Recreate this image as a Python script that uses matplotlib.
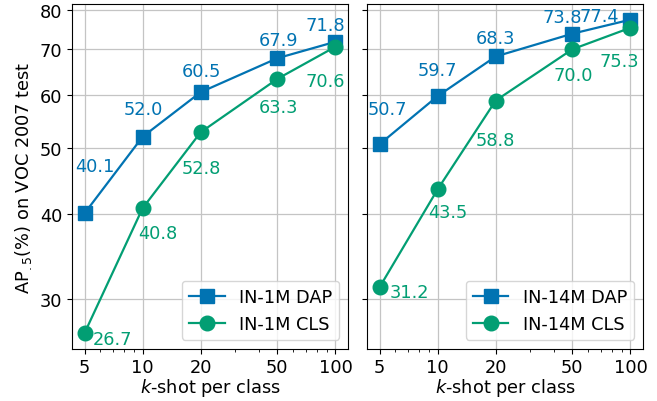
import matplotlib
matplotlib.use('Agg')
import matplotlib.pyplot as plt
from matplotlib.ticker import NullFormatter, NullLocator, FixedFormatter

# data
shots = [5, 10, 20, 50, 100]
in1m_dap = [40.1, 52.0, 60.5, 67.9, 71.8]
in1m_cls = [26.7, 40.8, 52.8, 63.3, 70.6]
in14m_dap = [50.7, 59.7, 68.3, 73.8, 77.4]
in14m_cls = [31.2, 43.5, 58.8, 70.0, 75.3]
y_ticks = [30, 40, 50, 60, 70, 80]

# label offsets in pixels (dx, dy)
off_1m_dap = [(10, 47), (1, 28), (1, 21), (1, 18), (-10, 17)]
off_1m_cls = [(28, -6), (15, -25), (1, -36), (1, -28), (-10, -34)]
off_14m_dap = [(8, 35), (0, 26), (0, 18), (-10, 17), (-31, 4)]
off_14m_cls = [(30, -5), (10, -23), (0, -39), (1, -26), (-11, -33)]

BLUE = '#0173B2'
GREEN = '#029E73'
FS = 12.8

plt.rcParams['font.size'] = FS

fig, axes = plt.subplots(1, 2, figsize=(6.57, 4.02), dpi=100, sharey=True)
fig.subplots_adjust(left=0.1096, right=0.9787, top=0.9876, bottom=0.13, wspace=0.069)

panels = [
    (axes[0], in1m_dap, in1m_cls, 'IN-1M DAP', 'IN-1M CLS', off_1m_dap, off_1m_cls),
    (axes[1], in14m_dap, in14m_cls, 'IN-14M DAP', 'IN-14M CLS', off_14m_dap, off_14m_cls),
]

for ax, dap, cls, ldap, lcls, odap, ocls in panels:
    ax.plot(shots, dap, '-s', color=BLUE, lw=1.6, markersize=10.5, label=ldap)
    ax.plot(shots, cls, '-o', color=GREEN, lw=1.6, markersize=10.5, label=lcls)
    ax.set_xscale('log')
    ax.set_yscale('log')
    for x, y, (dx, dy) in zip(shots, dap, odap):
        ax.annotate(f'{y:.1f}', (x, y), xytext=(dx, dy), textcoords='offset pixels',
                    ha='center', va='center', color=BLUE, fontsize=FS)
    for x, y, (dx, dy) in zip(shots, cls, ocls):
        ax.annotate(f'{y:.1f}', (x, y), xytext=(dx, dy), textcoords='offset pixels',
                    ha='center', va='center', color=GREEN, fontsize=FS)
    ax.set_xticks(shots)
    ax.set_xticklabels([str(s) for s in shots])
    ax.xaxis.set_minor_formatter(NullFormatter())
    ax.grid(True, which='major', color='#c4c4c4', lw=0.9)
    ax.set_xlabel('$k$-shot per class', labelpad=0)
    ax.legend(loc='lower right', fontsize=FS)

axes[0].set_yticks(y_ticks)
axes[0].yaxis.set_major_formatter(FixedFormatter([str(t) for t in y_ticks]))
axes[0].yaxis.set_minor_locator(NullLocator())
axes[0].set_ylabel('AP$_{.5}$(%) on VOC 2007 test')

fig.savefig('out.png', dpi=100)
